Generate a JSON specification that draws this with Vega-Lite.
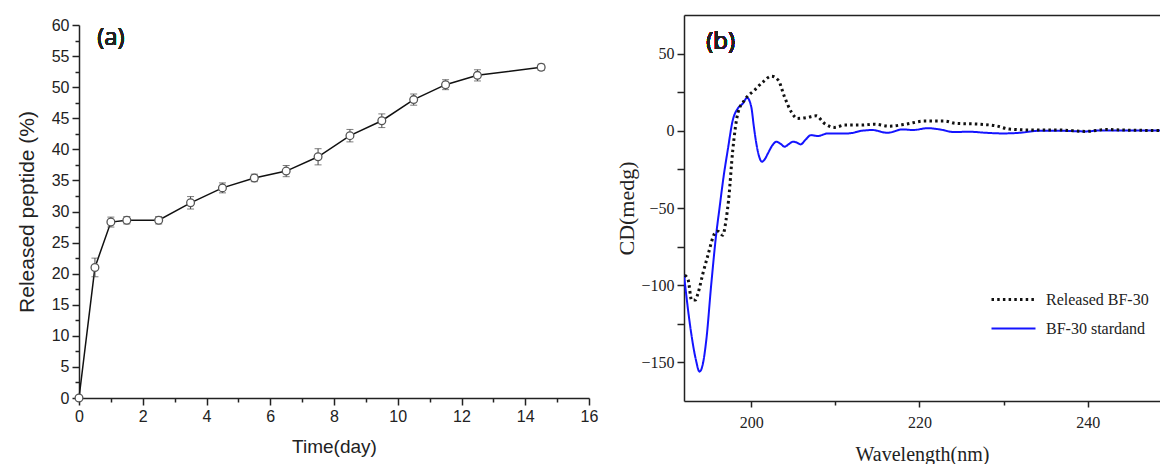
{
  "$schema": "https://vega.github.io/schema/vega-lite/v6.json",
  "background": "white",
  "padding": {"left": 16, "top": 15, "right": 0, "bottom": 0},
  "spacing": 17,
  "config": {
    "view": {"stroke": null},
    "axis": {
      "grid": false, "domainColor": "#222", "domainWidth": 1.5, "tickColor": "#222", "tickWidth": 1.5,
      "labelColor": "#222", "labelFlush": false, "labelOverlap": false, "titleColor": "#222", "titleFontWeight": "normal"
    }
  },
  "hconcat": [
    {
      "width": 510,
      "height": 383,
      "data": {"values": [
        {"t": 0, "v": 0, "lo": 0, "hi": 0},
        {"t": 0.5, "v": 21.0, "lo": 19.5, "hi": 22.5},
        {"t": 1, "v": 28.3, "lo": 27.5, "hi": 29.1},
        {"t": 1.5, "v": 28.6, "lo": 28.0, "hi": 29.2},
        {"t": 2.5, "v": 28.6, "lo": 28.0, "hi": 29.2},
        {"t": 3.5, "v": 31.4, "lo": 30.4, "hi": 32.4},
        {"t": 4.5, "v": 33.8, "lo": 33.0, "hi": 34.6},
        {"t": 5.5, "v": 35.4, "lo": 34.8, "hi": 36.0},
        {"t": 6.5, "v": 36.5, "lo": 35.6, "hi": 37.4},
        {"t": 7.5, "v": 38.8, "lo": 37.5, "hi": 40.1},
        {"t": 8.5, "v": 42.2, "lo": 41.2, "hi": 43.2},
        {"t": 9.5, "v": 44.6, "lo": 43.5, "hi": 45.7},
        {"t": 10.5, "v": 48.0, "lo": 47.1, "hi": 48.9},
        {"t": 11.5, "v": 50.4, "lo": 49.6, "hi": 51.2},
        {"t": 12.5, "v": 51.9, "lo": 51.0, "hi": 52.8},
        {"t": 14.5, "v": 53.2, "lo": 52.7, "hi": 53.7}
      ]},
      "layer": [
        {
          "mark": {"type": "line", "color": "#111", "strokeWidth": 1.5},
          "encoding": {
            "x": {"field": "t", "type": "quantitative",
              "scale": {"domain": [0, 16], "nice": false, "zero": false},
              "axis": {"title": "Time(day)", "values": [0,1,2,3,4,5,6,7,8,9,10,11,12,13,14,15,16], "labelExpr": "datum.value % 2 === 0 ? datum.label : ''", "tickSize": {"condition": {"test": "datum.value % 2 === 0", "value": 7}, "value": 4}, "labelFont": "Liberation Sans", "labelFontSize": 16, "labelPadding": 3, "titleFont": "Liberation Sans", "titleFontSize": 19, "titlePadding": 13}
            },
            "y": {"field": "v", "type": "quantitative",
              "scale": {"domain": [0, 60], "nice": false, "range": [383, 10]},
              "axis": {"title": "Released peptide (%)", "values": [0,2.5,5,7.5,10,12.5,15,17.5,20,22.5,25,27.5,30,32.5,35,37.5,40,42.5,45,47.5,50,52.5,55,57.5,60], "labelExpr": "datum.value % 5 === 0 ? datum.label : ''", "tickSize": {"condition": {"test": "datum.value % 5 === 0", "value": 7}, "value": 4}, "labelFont": "Liberation Sans", "labelFontSize": 16, "labelPadding": 3, "titleFont": "Liberation Sans", "titleFontSize": 21, "titlePadding": 14}
            }
          }
        },
        {
          "mark": {"type": "rule", "color": "#444", "strokeWidth": 1},
          "encoding": {
            "x": {"field": "t", "type": "quantitative",
              "axis": {"title": "Time(day)", "values": [0,1,2,3,4,5,6,7,8,9,10,11,12,13,14,15,16], "labelExpr": "datum.value % 2 === 0 ? datum.label : ''", "tickSize": {"condition": {"test": "datum.value % 2 === 0", "value": 7}, "value": 4}, "labelFont": "Liberation Sans", "labelFontSize": 16, "labelPadding": 3, "titleFont": "Liberation Sans", "titleFontSize": 19, "titlePadding": 13}
            },
            "y": {"field": "lo", "type": "quantitative",
              "axis": {"title": "Released peptide (%)", "values": [0,2.5,5,7.5,10,12.5,15,17.5,20,22.5,25,27.5,30,32.5,35,37.5,40,42.5,45,47.5,50,52.5,55,57.5,60], "labelExpr": "datum.value % 5 === 0 ? datum.label : ''", "tickSize": {"condition": {"test": "datum.value % 5 === 0", "value": 7}, "value": 4}, "labelFont": "Liberation Sans", "labelFontSize": 16, "labelPadding": 3, "titleFont": "Liberation Sans", "titleFontSize": 21, "titlePadding": 14}
            },
            "y2": {"field": "hi"}
          }
        },
        {
          "mark": {"type": "tick", "orient": "horizontal", "color": "#444", "size": 7, "thickness": 1},
          "encoding": {
            "x": {"field": "t", "type": "quantitative",
              "axis": {"title": "Time(day)", "values": [0,1,2,3,4,5,6,7,8,9,10,11,12,13,14,15,16], "labelExpr": "datum.value % 2 === 0 ? datum.label : ''", "tickSize": {"condition": {"test": "datum.value % 2 === 0", "value": 7}, "value": 4}, "labelFont": "Liberation Sans", "labelFontSize": 16, "labelPadding": 3, "titleFont": "Liberation Sans", "titleFontSize": 19, "titlePadding": 13}
            },
            "y": {"field": "lo", "type": "quantitative",
              "axis": {"title": "Released peptide (%)", "values": [0,2.5,5,7.5,10,12.5,15,17.5,20,22.5,25,27.5,30,32.5,35,37.5,40,42.5,45,47.5,50,52.5,55,57.5,60], "labelExpr": "datum.value % 5 === 0 ? datum.label : ''", "tickSize": {"condition": {"test": "datum.value % 5 === 0", "value": 7}, "value": 4}, "labelFont": "Liberation Sans", "labelFontSize": 16, "labelPadding": 3, "titleFont": "Liberation Sans", "titleFontSize": 21, "titlePadding": 14}
            }
          }
        },
        {
          "mark": {"type": "tick", "orient": "horizontal", "color": "#444", "size": 7, "thickness": 1},
          "encoding": {
            "x": {"field": "t", "type": "quantitative",
              "axis": {"title": "Time(day)", "values": [0,1,2,3,4,5,6,7,8,9,10,11,12,13,14,15,16], "labelExpr": "datum.value % 2 === 0 ? datum.label : ''", "tickSize": {"condition": {"test": "datum.value % 2 === 0", "value": 7}, "value": 4}, "labelFont": "Liberation Sans", "labelFontSize": 16, "labelPadding": 3, "titleFont": "Liberation Sans", "titleFontSize": 19, "titlePadding": 13}
            },
            "y": {"field": "hi", "type": "quantitative",
              "axis": {"title": "Released peptide (%)", "values": [0,2.5,5,7.5,10,12.5,15,17.5,20,22.5,25,27.5,30,32.5,35,37.5,40,42.5,45,47.5,50,52.5,55,57.5,60], "labelExpr": "datum.value % 5 === 0 ? datum.label : ''", "tickSize": {"condition": {"test": "datum.value % 5 === 0", "value": 7}, "value": 4}, "labelFont": "Liberation Sans", "labelFontSize": 16, "labelPadding": 3, "titleFont": "Liberation Sans", "titleFontSize": 21, "titlePadding": 14}
            }
          }
        },
        {
          "mark": {"type": "point", "filled": true, "fill": "white", "stroke": "#555", "strokeWidth": 1.3, "size": 60, "opacity": 1},
          "encoding": {
            "x": {"field": "t", "type": "quantitative",
              "axis": {"title": "Time(day)", "values": [0,1,2,3,4,5,6,7,8,9,10,11,12,13,14,15,16], "labelExpr": "datum.value % 2 === 0 ? datum.label : ''", "tickSize": {"condition": {"test": "datum.value % 2 === 0", "value": 7}, "value": 4}, "labelFont": "Liberation Sans", "labelFontSize": 16, "labelPadding": 3, "titleFont": "Liberation Sans", "titleFontSize": 19, "titlePadding": 13}
            },
            "y": {"field": "v", "type": "quantitative",
              "axis": {"title": "Released peptide (%)", "values": [0,2.5,5,7.5,10,12.5,15,17.5,20,22.5,25,27.5,30,32.5,35,37.5,40,42.5,45,47.5,50,52.5,55,57.5,60], "labelExpr": "datum.value % 5 === 0 ? datum.label : ''", "tickSize": {"condition": {"test": "datum.value % 5 === 0", "value": 7}, "value": 4}, "labelFont": "Liberation Sans", "labelFontSize": 16, "labelPadding": 3, "titleFont": "Liberation Sans", "titleFontSize": 21, "titlePadding": 14}
            }
          }
        },
        {
          "mark": {"type": "text", "text": "(a)", "font": "Open Sans", "fontWeight": "normal", "fontSize": 24, "color": "#222"},
          "encoding": {
            "x": {"datum": 1.0, "type": "quantitative",
              "axis": {"title": "Time(day)", "values": [0,1,2,3,4,5,6,7,8,9,10,11,12,13,14,15,16], "labelExpr": "datum.value % 2 === 0 ? datum.label : ''", "tickSize": {"condition": {"test": "datum.value % 2 === 0", "value": 7}, "value": 4}, "labelFont": "Liberation Sans", "labelFontSize": 16, "labelPadding": 3, "titleFont": "Liberation Sans", "titleFontSize": 19, "titlePadding": 13}
            },
            "y": {"datum": 57.9, "type": "quantitative",
              "axis": {"title": "Released peptide (%)", "values": [0,2.5,5,7.5,10,12.5,15,17.5,20,22.5,25,27.5,30,32.5,35,37.5,40,42.5,45,47.5,50,52.5,55,57.5,60], "labelExpr": "datum.value % 5 === 0 ? datum.label : ''", "tickSize": {"condition": {"test": "datum.value % 5 === 0", "value": 7}, "value": 4}, "labelFont": "Liberation Sans", "labelFontSize": 16, "labelPadding": 3, "titleFont": "Liberation Sans", "titleFontSize": 21, "titlePadding": 14}
            }
          }
        }
      ]
    },
    {
      "width": 476,
      "height": 386,
      "resolve": {"axis": {"x": "independent"}},
      "data": {"values": [
        {"w": 192.0, "cd": -93.5, "s": "BF-30 stardand"},
        {"w": 192.8, "cd": -129, "s": "BF-30 stardand"},
        {"w": 193.4, "cd": -148, "s": "BF-30 stardand"},
        {"w": 193.85, "cd": -156, "s": "BF-30 stardand"},
        {"w": 194.2, "cd": -152, "s": "BF-30 stardand"},
        {"w": 194.65, "cd": -135.6, "s": "BF-30 stardand"},
        {"w": 195.25, "cd": -98.8, "s": "BF-30 stardand"},
        {"w": 195.84, "cd": -66.5, "s": "BF-30 stardand"},
        {"w": 196.2, "cd": -51, "s": "BF-30 stardand"},
        {"w": 196.7, "cd": -30, "s": "BF-30 stardand"},
        {"w": 197.2, "cd": -12.5, "s": "BF-30 stardand"},
        {"w": 197.8, "cd": 6.9, "s": "BF-30 stardand"},
        {"w": 198.4, "cd": 14.5, "s": "BF-30 stardand"},
        {"w": 199.0, "cd": 17.7, "s": "BF-30 stardand"},
        {"w": 199.5, "cd": 21.4, "s": "BF-30 stardand"},
        {"w": 200.0, "cd": 15.5, "s": "BF-30 stardand"},
        {"w": 200.3, "cd": 3, "s": "BF-30 stardand"},
        {"w": 200.6, "cd": -8.2, "s": "BF-30 stardand"},
        {"w": 200.9, "cd": -16, "s": "BF-30 stardand"},
        {"w": 201.26, "cd": -20, "s": "BF-30 stardand"},
        {"w": 201.6, "cd": -18.5, "s": "BF-30 stardand"},
        {"w": 201.97, "cd": -14.7, "s": "BF-30 stardand"},
        {"w": 202.5, "cd": -9.5, "s": "BF-30 stardand"},
        {"w": 202.97, "cd": -7.1, "s": "BF-30 stardand"},
        {"w": 203.5, "cd": -8.5, "s": "BF-30 stardand"},
        {"w": 203.95, "cd": -10.3, "s": "BF-30 stardand"},
        {"w": 204.5, "cd": -8.5, "s": "BF-30 stardand"},
        {"w": 204.94, "cd": -7.1, "s": "BF-30 stardand"},
        {"w": 205.4, "cd": -7.6, "s": "BF-30 stardand"},
        {"w": 205.86, "cd": -8.8, "s": "BF-30 stardand"},
        {"w": 206.5, "cd": -5.5, "s": "BF-30 stardand"},
        {"w": 207.1, "cd": -2.8, "s": "BF-30 stardand"},
        {"w": 207.9, "cd": -3.4, "s": "BF-30 stardand"},
        {"w": 209.1, "cd": -1.7, "s": "BF-30 stardand"},
        {"w": 211.5, "cd": -1.7, "s": "BF-30 stardand"},
        {"w": 213.1, "cd": 0, "s": "BF-30 stardand"},
        {"w": 214.4, "cd": 0.5, "s": "BF-30 stardand"},
        {"w": 216.2, "cd": -1.3, "s": "BF-30 stardand"},
        {"w": 218.0, "cd": 0.9, "s": "BF-30 stardand"},
        {"w": 219.2, "cd": 0.5, "s": "BF-30 stardand"},
        {"w": 221.0, "cd": 1.7, "s": "BF-30 stardand"},
        {"w": 222.4, "cd": 0.9, "s": "BF-30 stardand"},
        {"w": 224.1, "cd": -0.8, "s": "BF-30 stardand"},
        {"w": 225.9, "cd": -0.6, "s": "BF-30 stardand"},
        {"w": 227.9, "cd": -1.3, "s": "BF-30 stardand"},
        {"w": 229.9, "cd": -1.7, "s": "BF-30 stardand"},
        {"w": 231.9, "cd": -1.3, "s": "BF-30 stardand"},
        {"w": 234.2, "cd": 0, "s": "BF-30 stardand"},
        {"w": 236.6, "cd": 0, "s": "BF-30 stardand"},
        {"w": 239.8, "cd": -0.4, "s": "BF-30 stardand"},
        {"w": 241.4, "cd": 0.2, "s": "BF-30 stardand"},
        {"w": 243.8, "cd": 0.2, "s": "BF-30 stardand"},
        {"w": 248.6, "cd": 0.2, "s": "BF-30 stardand"},
        {"w": 192.1, "cd": -93.5, "s": "Released BF-30"},
        {"w": 192.5, "cd": -96.7, "s": "Released BF-30"},
        {"w": 192.9, "cd": -109.6, "s": "Released BF-30"},
        {"w": 193.35, "cd": -109.6, "s": "Released BF-30"},
        {"w": 193.66, "cd": -105.3, "s": "Released BF-30"},
        {"w": 194.25, "cd": -92.4, "s": "Released BF-30"},
        {"w": 194.85, "cd": -80.5, "s": "Released BF-30"},
        {"w": 195.64, "cd": -66.5, "s": "Released BF-30"},
        {"w": 196.0, "cd": -65, "s": "Released BF-30"},
        {"w": 196.6, "cd": -67.6, "s": "Released BF-30"},
        {"w": 197.0, "cd": -57.8, "s": "Released BF-30"},
        {"w": 197.3, "cd": -44.9, "s": "Released BF-30"},
        {"w": 197.8, "cd": -12.5, "s": "Released BF-30"},
        {"w": 198.4, "cd": 11.3, "s": "Released BF-30"},
        {"w": 199.2, "cd": 19.9, "s": "Released BF-30"},
        {"w": 200.4, "cd": 26.4, "s": "Released BF-30"},
        {"w": 201.4, "cd": 31.7, "s": "Released BF-30"},
        {"w": 202.4, "cd": 35.4, "s": "Released BF-30"},
        {"w": 203.2, "cd": 32.8, "s": "Released BF-30"},
        {"w": 203.95, "cd": 22, "s": "Released BF-30"},
        {"w": 204.75, "cd": 12.3, "s": "Released BF-30"},
        {"w": 205.5, "cd": 8, "s": "Released BF-30"},
        {"w": 206.7, "cd": 8.7, "s": "Released BF-30"},
        {"w": 207.7, "cd": 9.7, "s": "Released BF-30"},
        {"w": 208.7, "cd": 4.8, "s": "Released BF-30"},
        {"w": 209.9, "cd": 2.2, "s": "Released BF-30"},
        {"w": 211.1, "cd": 3.7, "s": "Released BF-30"},
        {"w": 213.1, "cd": 3.7, "s": "Released BF-30"},
        {"w": 214.6, "cd": 4.3, "s": "Released BF-30"},
        {"w": 216.4, "cd": 3.0, "s": "Released BF-30"},
        {"w": 218.4, "cd": 4.3, "s": "Released BF-30"},
        {"w": 220.6, "cd": 6.3, "s": "Released BF-30"},
        {"w": 223.0, "cd": 6.3, "s": "Released BF-30"},
        {"w": 224.3, "cd": 4.8, "s": "Released BF-30"},
        {"w": 227.1, "cd": 4.3, "s": "Released BF-30"},
        {"w": 229.1, "cd": 3.2, "s": "Released BF-30"},
        {"w": 230.7, "cd": 1.1, "s": "Released BF-30"},
        {"w": 233.4, "cd": 0.5, "s": "Released BF-30"},
        {"w": 236.6, "cd": 0.5, "s": "Released BF-30"},
        {"w": 239.8, "cd": -0.4, "s": "Released BF-30"},
        {"w": 242.2, "cd": 0.9, "s": "Released BF-30"},
        {"w": 244.1, "cd": 0.5, "s": "Released BF-30"},
        {"w": 248.6, "cd": 0.2, "s": "Released BF-30"}
      ]},
      "layer": [
        {
          "mark": {"type": "line", "interpolate": "monotone", "clip": true},
          "encoding": {
            "x": {"field": "w", "type": "quantitative",
              "scale": {"domain": [192, 248.6], "nice": false, "zero": false},
              "axis": {"orient": "bottom", "title": "Wavelength(nm)", "values": [200, 210, 220, 230, 240], "labelExpr": "datum.value % 20 === 0 ? datum.label : ''", "tickSize": {"condition": {"test": "datum.value % 20 === 0", "value": 6}, "value": 4}, "labelFont": "Liberation Serif", "labelFontSize": 16, "labelPadding": 7, "titleFont": "Liberation Serif", "titleFontSize": 20, "titlePadding": 14}
            },
            "y": {"field": "cd", "type": "quantitative",
              "scale": {"domain": [-175, 75], "nice": false, "zero": false},
              "axis": {"title": "CD(medg)", "values": [-150, -125, -100, -75, -50, -25, 0, 25, 50], "labelExpr": "datum.value % 50 === 0 ? datum.label : ''", "tickSize": 7, "labelFont": "Liberation Serif", "labelFontSize": 16, "labelPadding": 3, "titleFont": "Liberation Serif", "titleFontSize": 22, "titlePadding": 2}
            },
            "color": {"field": "s", "type": "nominal",
              "scale": {"domain": ["Released BF-30", "BF-30 stardand"], "range": ["#111111", "#1414ff"]},
              "legend": {
                "title": null, "orient": "none", "legendX": 911, "legendY": 270,
                "symbolType": "stroke", "symbolSize": 1936, "symbolStrokeWidth": 3,
                "clipHeight": 29, "rowPadding": 0, "padding": 0, "labelOffset": 9,
                "labelFont": "Liberation Serif", "labelFontSize": 16, "labelColor": "#222"
              }
            },
            "strokeDash": {"field": "s", "type": "nominal",
              "scale": {"domain": ["Released BF-30", "BF-30 stardand"], "range": [[2.5, 3.2], [1, 0]]},
              "legend": {
                "title": null, "orient": "none", "legendX": 911, "legendY": 270,
                "symbolType": "stroke", "symbolSize": 1936, "symbolStrokeWidth": 3,
                "clipHeight": 29, "rowPadding": 0, "padding": 0, "labelOffset": 9,
                "labelFont": "Liberation Serif", "labelFontSize": 16, "labelColor": "#222"
              }
            },
            "strokeWidth": {"field": "s", "type": "nominal",
              "scale": {"domain": ["Released BF-30", "BF-30 stardand"], "range": [3, 2]},
              "legend": null
            }
          }
        },
        {
          "mark": {"type": "text", "text": "(b)", "font": "Open Sans", "fontWeight": "normal", "fontSize": 24, "color": "#222"},
          "encoding": {
            "x": {"datum": 196.35, "type": "quantitative",
              "axis": {"orient": "top", "title": null, "labels": false, "ticks": false, "domain": true}
            },
            "y": {"datum": 57.4, "type": "quantitative",
              "axis": {"title": "CD(medg)", "values": [-150, -125, -100, -75, -50, -25, 0, 25, 50], "labelExpr": "datum.value % 50 === 0 ? datum.label : ''", "tickSize": 7, "labelFont": "Liberation Serif", "labelFontSize": 16, "labelPadding": 3, "titleFont": "Liberation Serif", "titleFontSize": 22, "titlePadding": 2}
            }
          }
        }
      ]
    }
  ]
}
